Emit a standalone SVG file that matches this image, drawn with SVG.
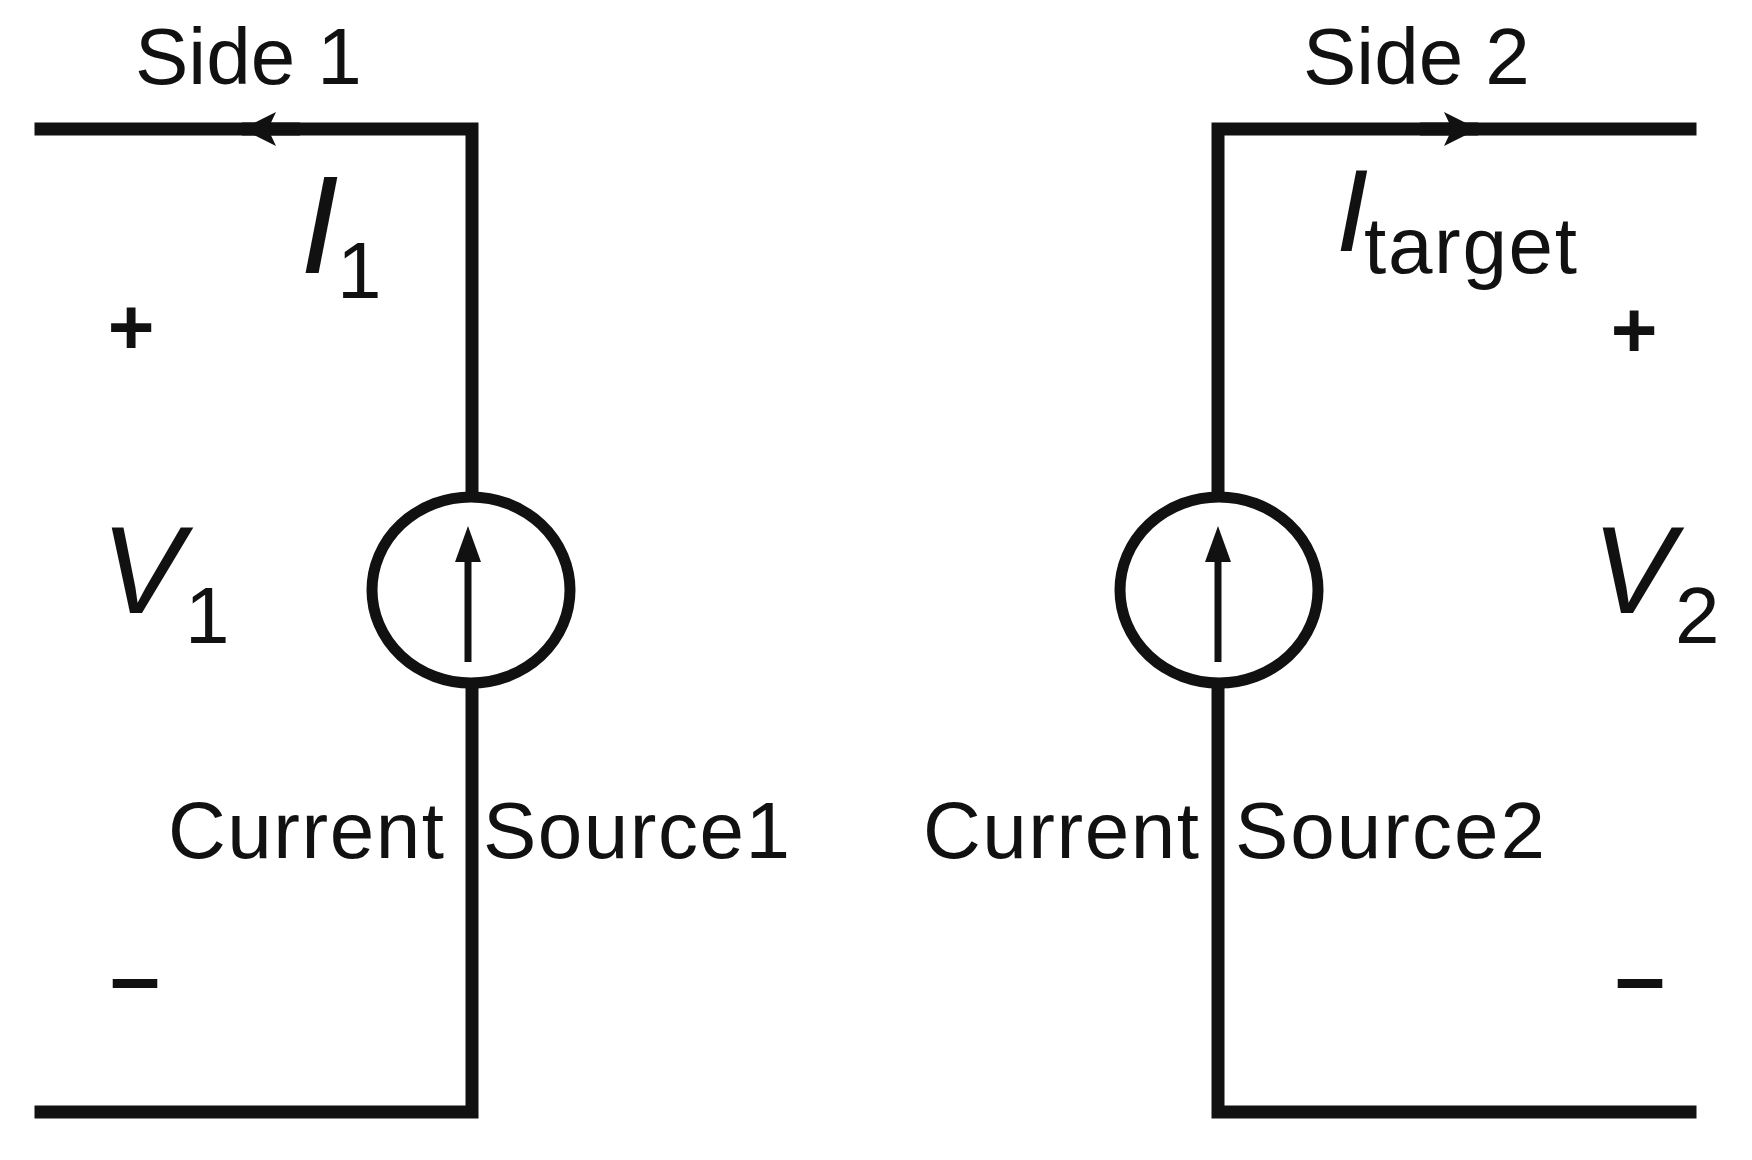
<svg xmlns="http://www.w3.org/2000/svg" width="1752" height="1160" viewBox="0 0 1752 1160">
<style>
.w{fill:none;stroke:#111;stroke-width:13;stroke-linecap:square}
.c{fill:#fff;stroke:#111;stroke-width:11}
.a{stroke:#111;stroke-width:7}
text{font-family:"Liberation Sans",Arial,sans-serif;fill:#111}
.it{font-style:italic}
</style>
<defs>
<marker id="h" markerWidth="34" markerHeight="34" refX="34" refY="17" orient="auto" markerUnits="userSpaceOnUse"><path d="M0,0L34,17L0,34L8,17z" fill="#111"/></marker>
</defs>
<rect width="1752" height="1160" fill="#fff"/>
<g id="connectors">
<path class="w" d="M41,129H472V1112H41"/>
<path class="w" d="M1690,129H1218V1112H1690"/>
<path d="M300,129H242" stroke="#111" stroke-width="13" marker-end="url(#h)"/>
<path d="M1420,129H1478" stroke="#111" stroke-width="13" marker-end="url(#h)"/>
</g>
<g id="source1">
<ellipse class="c" cx="471" cy="590" rx="99" ry="93"/>
<line class="a" x1="468" y1="662" x2="468" y2="560"/>
<path d="M455,562L468,526L481,562z" fill="#111"/>
</g>
<g id="source2">
<ellipse class="c" cx="1219" cy="590" rx="99" ry="93"/>
<line class="a" x1="1218" y1="662" x2="1218" y2="560"/>
<path d="M1205,562L1218,526L1231,562z" fill="#111"/>
</g>
<g id="labels">
<text x="135" y="84" font-size="80">Side 1</text>
<text x="1303" y="84" font-size="80">Side 2</text>
<text x="300" y="273" font-size="140" class="it">I</text>
<text x="337" y="298" font-size="80">1</text>
<text x="1336" y="251" font-size="117" class="it">I</text>
<text x="1364" y="273" font-size="80" textLength="213">target</text>
<text x="101" y="613" font-size="124" class="it">V</text>
<text x="185" y="643" font-size="80">1</text>
<text x="1592" y="613" font-size="124" class="it">V</text>
<text x="1675" y="643" font-size="80">2</text>
<text x="131" y="354" font-size="80" font-weight="bold" text-anchor="middle">+</text>
<text x="1634" y="357" font-size="80" font-weight="bold" text-anchor="middle">+</text>
<text x="135" y="1008" font-size="90" font-weight="bold" text-anchor="middle">–</text>
<text x="1640" y="1008" font-size="90" font-weight="bold" text-anchor="middle">–</text>
<text x="168" y="858" font-size="80" textLength="276">Current</text>
<text x="483" y="858" font-size="80" textLength="307">Source1</text>
<text x="923" y="858" font-size="80" textLength="276">Current</text>
<text x="1235" y="858" font-size="80" textLength="310">Source2</text>
</g>
</svg>
